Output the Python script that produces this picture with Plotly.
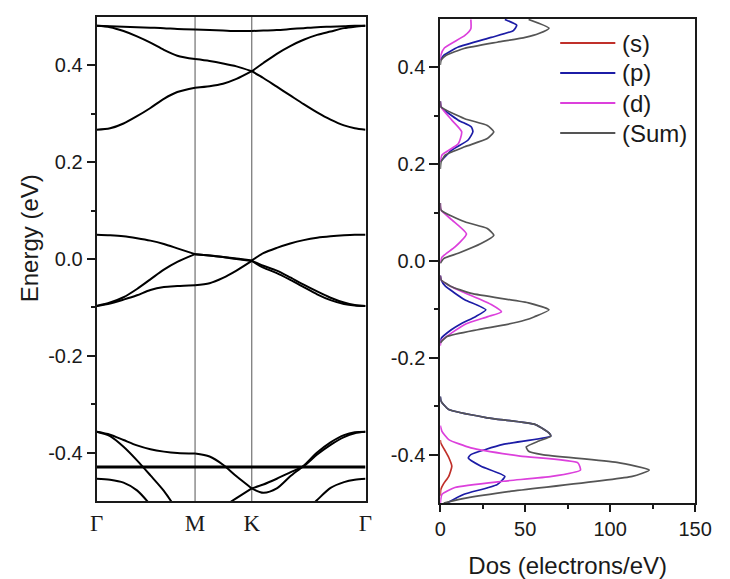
import plotly.graph_objects as go

# ---------------- band structure data ----------------
k_labels = ['Γ', 'M', 'K', 'Γ']
k_ticks = [0.0, 0.366, 0.577, 1.0]
k_grid = [0.0, 0.05, 0.10, 0.15, 0.20, 0.25, 0.30, 0.366, 0.42, 0.47, 0.52,
          0.577, 0.62, 0.67, 0.72, 0.77, 0.82, 0.87, 0.92, 0.96, 1.0]

band_a = [0.482, 0.481, 0.480, 0.479, 0.478, 0.477, 0.475, 0.474, 0.473, 0.472, 0.471,
          0.471, 0.472, 0.473, 0.475, 0.477, 0.479, 0.480, 0.481, 0.482, 0.482]
band_b = [0.482, 0.479, 0.471, 0.460, 0.447, 0.432, 0.420, 0.413, 0.409, 0.404, 0.398,
          0.388, 0.405, 0.424, 0.440, 0.453, 0.463, 0.470, 0.477, 0.480, 0.482]
band_c = [0.267, 0.270, 0.280, 0.295, 0.312, 0.331, 0.345, 0.354, 0.357, 0.362, 0.372,
          0.388, 0.374, 0.356, 0.338, 0.320, 0.303, 0.288, 0.276, 0.270, 0.267]
band_d = [0.050, 0.049, 0.047, 0.043, 0.038, 0.031, 0.022, 0.010, 0.007, 0.004, 0.001,
          -0.003, 0.012, 0.023, 0.032, 0.039, 0.044, 0.047, 0.049, 0.050, 0.050]
band_e = [-0.097, -0.090, -0.079, -0.062, -0.042, -0.022, -0.006, 0.010, 0.007, 0.004, 0.000,
          -0.004, -0.014, -0.024, -0.038, -0.053, -0.067, -0.080, -0.090, -0.095, -0.097]
band_f = [-0.097, -0.092, -0.084, -0.075, -0.064, -0.058, -0.056, -0.054, -0.050, -0.039, -0.024,
          -0.004, -0.018, -0.029, -0.043, -0.058, -0.073, -0.085, -0.093, -0.096, -0.097]
band_g = [-0.357, -0.363, -0.374, -0.385, -0.393, -0.398, -0.401, -0.402, -0.408, -0.425, -0.449,
          -0.474, -0.466, -0.454, -0.441, -0.428, -0.404, -0.384, -0.368, -0.360, -0.357]
band_h = [-0.357, -0.366, -0.388, -0.416, -0.447, -0.479, -0.520, None, None, -0.512, -0.494,
          -0.474, -0.483, -0.474, -0.449, -0.427, -0.400, -0.379, -0.364, -0.358, -0.357]
band_i = [-0.454, -0.456, -0.462, -0.478, -0.508, None, None, None, None, None, None,
          None, None, None, None, -0.525, -0.498, -0.473, -0.461, -0.456, -0.454]
band_flat = [-0.430] * len(k_grid)

bands = [band_a, band_b, band_c, band_d, band_e, band_f, band_g, band_h, band_i]

# ---------------- DOS data ----------------
dos_s_e = [0.5, -0.37, -0.376, -0.39, -0.406, -0.424, -0.445, -0.46, -0.472, -0.485, -0.5]
dos_s = [0, 0, 0.3, 2.5, 5.0, 6.8, 5.0, 2.0, 0.3, 0, 0]

dos_p_e = [0.499, 0.487, 0.476, 0.462, 0.442, 0.425, 0.415,
           0.33, 0.318, 0.291, 0.277, 0.267, 0.250, 0.229, 0.205,
           -0.03, -0.039, -0.052, -0.065, -0.080, -0.101, -0.115, -0.130, -0.142, -0.16, -0.17,
           -0.28, -0.29, -0.307, -0.324, -0.338, -0.355, -0.362, -0.379, -0.400, -0.407, -0.424,
           -0.445, -0.462, -0.482, -0.5]
dos_p = [38, 45, 43, 30, 10.6, 2, 0,
         0, 0.5, 10.6, 18.3, 19.2, 16.4, 6.8, 0,
         0, 0.5, 3, 8, 14.4, 26.8, 20.7, 12, 6.5, 0.5, 0,
         0, 0.5, 5, 27.8, 56, 64, 65, 37, 18, 16.5, 24,
         38, 33.5, 14, 4]

dos_d_e = [0.499, 0.480, 0.466, 0.44, 0.425, 0.415,
           0.33, 0.318, 0.291, 0.267, 0.242, 0.219, 0.205,
           0.12, 0.105, 0.085, 0.056, 0.029, 0.008, -0.004,
           -0.03, -0.039, -0.052, -0.065, -0.080, -0.090, -0.105, -0.115, -0.130, -0.149, -0.165, -0.175,
           -0.34, -0.352, -0.369, -0.386, -0.403, -0.417, -0.432, -0.445, -0.455, -0.468, -0.482, -0.5]
dos_d = [18, 18, 14.5, 2.4, 0.3, 0,
         0, 0.5, 6.8, 12.6, 10.6, 1, 0,
         0, 0.5, 6.8, 15.4, 8.7, 1, 0,
         0, 0.5, 6, 14, 24, 30, 36, 28, 15, 6.5, 0.5, 0,
         0, 1, 5, 18, 47, 81, 82.5, 65.6, 37, 8.6, 1, 0]

dos_sum_e = [0.499, 0.481, 0.470, 0.462, 0.452, 0.439, 0.425, 0.415, 0.405,
             0.33, 0.318, 0.294, 0.280, 0.267, 0.253, 0.236, 0.219, 0.205, 0.19,
             0.12, 0.105, 0.081, 0.067, 0.053, 0.036, 0.016, 0.005, -0.005,
             -0.03, -0.039, -0.052, -0.067, -0.087, -0.101, -0.115, -0.122, -0.132, -0.142, -0.156, -0.169,
             -0.28, -0.29, -0.307, -0.324, -0.338, -0.355, -0.362, -0.372, -0.384, -0.393, -0.400,
             -0.416, -0.432, -0.445, -0.476, -0.490, -0.5]
dos_sum = [52, 64, 58, 50, 33.5, 14, 3.5, 0.5, 0,
           0, 0.5, 14.4, 27.7, 31.5, 27.7, 14.4, 3, 0.5, 0,
           0, 0.5, 14.4, 27.7, 31.5, 24, 10.6, 2, 0,
           0, 0.5, 6, 18.3, 52.5, 64, 55.5, 50, 38, 22, 4, 0,
           0, 0.5, 5, 27.8, 56, 64, 65, 58, 50.6, 52, 60,
           104, 123, 113, 41, 15, 2]

dos_names = ['(s)', '(p)', '(d)', '(Sum)']
dos_colors = ['#c0302a', '#1c1ca6', '#dc40dc', '#555555']

y_ticks = [-0.4, -0.2, 0.0, 0.2, 0.4]
y_ticktext = ['-0.4', '-0.2', '0.0', '0.2', '0.4']
y_minor = [-0.3, -0.1, 0.1, 0.3]
x2_ticks = [0, 50, 100, 150]
x2_minor = [25, 75, 125]

# ---------------- figure ----------------
W, H = 730, 579
fig = go.Figure()

i_m = k_grid.index(k_ticks[1])
i_k = k_grid.index(k_ticks[2])


def segmented(vals):
    xs, ys = [], []
    for (a, c) in [(0, i_m), (i_m, i_k), (i_k, len(k_grid) - 1)]:
        xs += k_grid[a:c + 1] + [None]
        ys += vals[a:c + 1] + [None]
    return xs, ys


def skip_zero_runs(dv, ev):
    # break the line where the DOS stays at zero (it would lie on the axis line)
    xs, ys = [], []
    n = len(dv)
    for i in range(n):
        xs.append(dv[i])
        ys.append(ev[i])
        if i < n - 1 and dv[i] == 0 and dv[i + 1] == 0:
            xs.append(None)
            ys.append(None)
    return xs, ys


for b in bands:
    xs, ys = segmented(b)
    fig.add_trace(go.Scatter(x=xs, y=ys, mode='lines', xaxis='x', yaxis='y',
                             line=dict(color='black', width=2, shape='spline', smoothing=0.8),
                             showlegend=False, hoverinfo='skip'))
fig.add_trace(go.Scatter(x=k_grid, y=band_flat, mode='lines', xaxis='x', yaxis='y',
                         line=dict(color='black', width=3), showlegend=False, hoverinfo='skip'))

for name, col, dv, ev in zip(dos_names, dos_colors,
                             [dos_s, dos_p, dos_d, dos_sum],
                             [dos_s_e, dos_p_e, dos_d_e, dos_sum_e]):
    xs, ys = skip_zero_runs(dv, ev)
    fig.add_trace(go.Scatter(x=xs, y=ys, mode='lines', xaxis='x2', yaxis='y2', name=name,
                             line=dict(color=col, width=1.7, shape='spline', smoothing=0.5),
                             showlegend=False))

for kv in k_ticks[1:3]:
    fig.add_shape(type='line', xref='x', yref='y domain', x0=kv, x1=kv, y0=0, y1=1,
                  line=dict(color='#555555', width=1), layer='below')

# legend (drawn as line samples + text)
leg_y0, leg_dy = 43, 30
for i, (name, col) in enumerate(zip(dos_names, dos_colors)):
    yy = (H - (leg_y0 + i * leg_dy)) / H
    fig.add_shape(type='line', xref='paper', yref='paper', x0=572 / W, x1=629 / W,
                  y0=yy, y1=yy, line=dict(color=col, width=1.8))
    fig.add_annotation(text=name, xref='paper', yref='paper', x=634 / W, y=yy,
                       xanchor='left', yanchor='middle', showarrow=False,
                       font=dict(size=24, color='#1a1a1a'))

font = 'Liberation Sans, Arial, sans-serif'
axis_common = dict(showline=True, mirror=True, linecolor='#1a1a1a', linewidth=2,
                   showgrid=False, zeroline=False)

# y-axis title for the band panel
fig.add_annotation(text='Energy (eV)', xref='paper', yref='paper', x=23 / W, y=(H - 238) / H,
                   xanchor='center', yanchor='middle', textangle=-90, showarrow=False,
                   font=dict(size=24, color='#1a1a1a'))

fig.update_layout(
    width=W, height=H,
    margin=dict(l=0, r=0, t=0, b=0),
    paper_bgcolor='white', plot_bgcolor='white',
    font=dict(family=font, color='#1a1a1a', size=20),
    showlegend=False,
    xaxis=dict(domain=[92.7 / W, 370.7 / W], range=[0, 1], tickmode='array',
               tickvals=k_ticks, ticktext=k_labels, ticks='',
               tickfont=dict(family='Liberation Serif, Times New Roman, serif', size=23),
               **axis_common),
    yaxis=dict(domain=[(H - 501) / H, (H - 17) / H], range=[-0.5, 0.5], tickmode='array',
               tickvals=y_ticks, ticktext=y_ticktext, ticks='outside', ticklen=8,
               tickwidth=1.5, tickcolor='#1a1a1a',
               minor=dict(tickvals=y_minor, ticks='outside', ticklen=4, tickwidth=1.5,
                          tickcolor='#1a1a1a'),
               **axis_common),
    xaxis2=dict(domain=[448 / W, 711.5 / W], range=[0, 150], anchor='y2', tickmode='array',
                tickvals=x2_ticks, ticks='outside', ticklen=7, tickwidth=1.5,
                tickcolor='#1a1a1a',
                minor=dict(tickvals=x2_minor, ticks='outside', ticklen=4, tickwidth=1.5,
                           tickcolor='#1a1a1a'),
                title=dict(text='Dos (electrons/eV)', font=dict(size=24), standoff=18),
                **axis_common),
    yaxis2=dict(domain=[(H - 503) / H, (H - 19) / H], range=[-0.5, 0.5], anchor='x2',
                tickmode='array', tickvals=y_ticks, ticktext=y_ticktext, ticks='outside',
                ticklen=9, tickwidth=1.5, tickcolor='#1a1a1a',
                minor=dict(tickvals=y_minor, ticks='outside', ticklen=4, tickwidth=1.5,
                           tickcolor='#1a1a1a'),
                **axis_common),
)

fig.write_html('out.html')
